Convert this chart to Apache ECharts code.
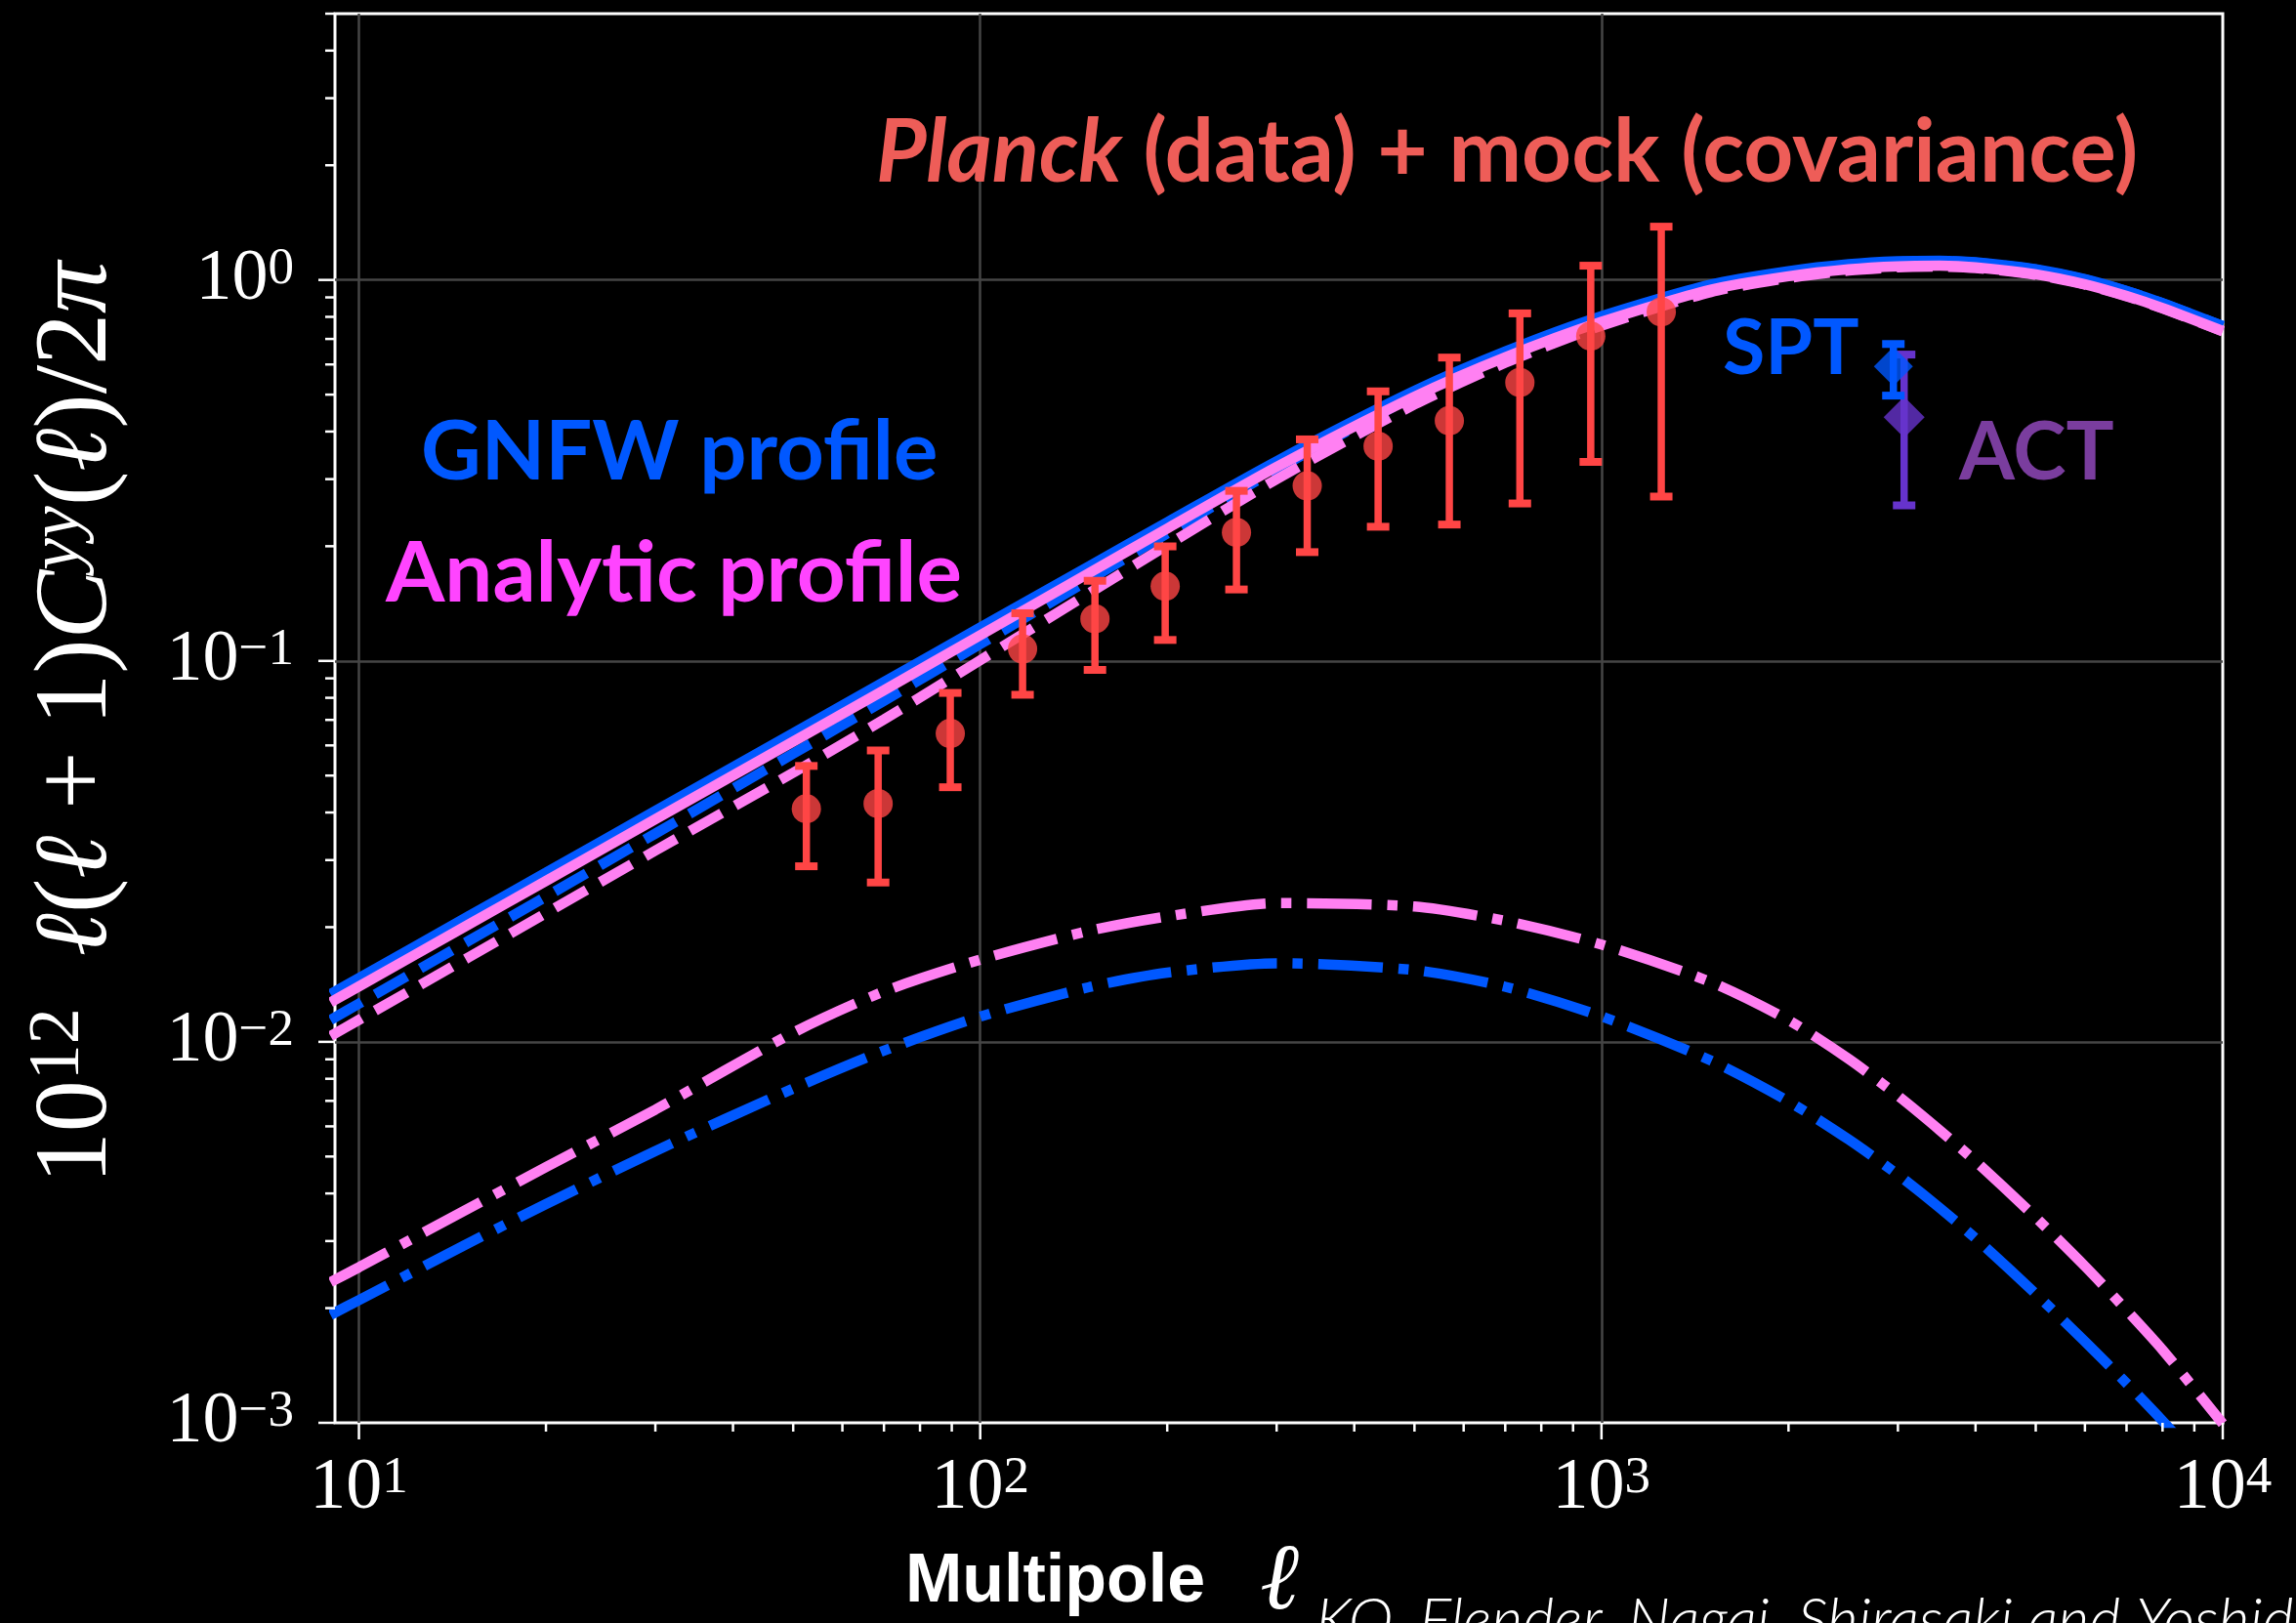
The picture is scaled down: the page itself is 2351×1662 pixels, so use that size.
<!DOCTYPE html>
<html><head><meta charset="utf-8">
<script src="https://cdn.jsdelivr.net/npm/echarts@6/dist/echarts.min.js"></script>
<style>html,body{margin:0;padding:0;background:#000}#c{width:2351px;height:1662px}</style>
</head><body><div id="c"></div>
<script>
// ---- data ----
const ell = [9, 10, 15, 20, 30, 50, 70, 100, 150, 200, 300, 500, 700, 1000, 1500, 2000, 2500, 3000, 3500, 4000, 5000, 6000, 7000, 8000, 10000];
const gnfwTotal     = [0.01334, 0.0147, 0.02135, 0.02781, 0.04039, 0.06461, 0.08807, 0.1223, 0.1775, 0.2312, 0.3344, 0.5112, 0.6489, 0.8036, 0.9728, 1.0544, 1.100, 1.120, 1.1235, 1.1131, 1.0669, 1.0046, 0.9359, 0.8695, 0.757];
const analyticTotal = [0.01269, 0.01398, 0.0203, 0.02645, 0.03841, 0.06144, 0.08375, 0.1168, 0.1704, 0.2226, 0.323, 0.4938, 0.6268, 0.7763, 0.9436, 1.0228, 1.067, 1.0864, 1.0898, 1.0797, 1.0349, 0.9745, 0.9078, 0.8434, 0.7343];
const gnfw1h        = [0.01142, 0.0126, 0.01839, 0.02406, 0.03522, 0.05707, 0.07859, 0.1107, 0.1636, 0.216, 0.3183, 0.4958, 0.635, 0.7919, 0.9639, 1.0474, 1.0945, 1.1155, 1.1198, 1.1101, 1.0647, 1.003, 0.9346, 0.8685, 0.7563];
const analytic1h    = [0.01035, 0.01142, 0.01665, 0.02176, 0.03177, 0.05087, 0.07019, 0.1004, 0.1508, 0.2013, 0.2999, 0.4711, 0.606, 0.7583, 0.9293, 1.0114, 1.058, 1.0792, 1.0839, 1.0748, 1.0314, 0.9719, 0.9058, 0.8419, 0.7333];
const gnfw2h        = [0.00192, 0.0021, 0.00296, 0.00375, 0.00517, 0.00754, 0.00948, 0.01165, 0.01393, 0.01519, 0.01608, 0.01543, 0.01395, 0.01167, 0.00893, 0.00698, 0.00554, 0.00448, 0.00367, 0.00305, 0.00218, 0.001635, 0.00127, 0.001012, 0.00068];
const analytic2h    = [0.00234, 0.00256, 0.00365, 0.00469, 0.00664, 0.01057, 0.01356, 0.01644, 0.01957, 0.02134, 0.02313, 0.02266, 0.02077, 0.018, 0.01435, 0.0114, 0.00902, 0.00722, 0.00587, 0.00486, 0.00346, 0.002576, 0.001976, 0.001554, 0.000995];

const planckEll = [52.5, 68.5, 89.5, 117, 153, 198.5, 258.5, 336, 437, 569, 739, 961, 1248];
const planckC   = [0.0409, 0.0422, 0.0645, 0.1075, 0.129, 0.157, 0.2175, 0.288, 0.366, 0.427, 0.538, 0.712, 0.824];
const planckLo  = [0.0289, 0.0262, 0.0466, 0.0815, 0.0947, 0.1135, 0.154, 0.193, 0.225, 0.228, 0.259, 0.333, 0.27];
const planckHi  = [0.053, 0.0582, 0.0824, 0.1334, 0.1623, 0.1998, 0.2795, 0.3815, 0.51, 0.6255, 0.817, 1.09, 1.38];

const sptEll = [2950], sptC = [0.593], sptLo = [0.497], sptHi = [0.679];
const actEll = [3070], actC = [0.436], actLo = [0.256], actHi = [0.637];

const X_MIN = 9.15, X_MAX = 10000, Y_MIN = 0.001, Y_MAX = 5;
const xMajorTicks = [10, 100, 1000, 10000];
const xMinorTicks = [20,30,40,50,60,70,80,90,200,300,400,500,600,700,800,900,2000,3000,4000,5000,6000,7000,8000,9000];
const yMajorTicks = [0.001, 0.01, 0.1, 1];
const yMinorTicks = [0.002,0.003,0.004,0.005,0.006,0.007,0.008,0.009,0.02,0.03,0.04,0.05,0.06,0.07,0.08,0.09,0.2,0.3,0.4,0.5,0.6,0.7,0.8,0.9,2,3,4,5];

// ---- styling ----
const BLUE = '#0058ff', PINK = '#ff80f2', RED = '#ff4545', PURPLE = '#6633cc';
const SERIF = "'Liberation Serif','DejaVu Serif',serif";
const SANS = "Lato,'Open Sans',sans-serif";
const LW = 10.5;
const DASH = [37, 16];
const DASHDOT = [66, 16, 10.5, 16];

const chart = echarts.init(document.getElementById('c'), null, {renderer: 'canvas'});

function pow10Label(v) {
  const e = Math.log10(v);
  const r = Math.round(e);
  if (Math.abs(e - r) > 1e-6) return '';
  return '{n|10}{s|' + String(r).replace('-', '\u2212') + '}';
}
const tickRich = {
  n: {fontFamily: SERIF, fontSize: 74, lineHeight: 74, color: '#fff'},
  s: {fontFamily: SERIF, fontSize: 53, lineHeight: 32, verticalAlign: 'top', color: '#fff'}
};

function pairs(xs, ys) { return xs.map((x, i) => [x, ys[i]]); }
function triples(xs, lo, hi) { return xs.map((x, i) => [x, lo[i], hi[i]]); }

function lineSeries(name, ys, color, type, z) {
  return {
    name, type: 'line', data: pairs(ell, ys), showSymbol: false, smooth: 0.25,
    lineStyle: {color, width: LW, type, cap: 'butt'}, z, silent: true, animation: false
  };
}

function errRender(color, barW, capW, capH) {
  return function (params, api) {
    const x = api.value(0), lo = api.value(1), hi = api.value(2);
    const a = api.coord([x, lo]), b = api.coord([x, hi]);
    return {type: 'group', children: [
      {type: 'line', shape: {x1: a[0], y1: a[1], x2: b[0], y2: b[1]}, style: {stroke: color, lineWidth: barW}},
      {type: 'rect', shape: {x: a[0] - capW / 2, y: a[1] - capH / 2, width: capW, height: capH}, style: {fill: color}},
      {type: 'rect', shape: {x: b[0] - capW / 2, y: b[1] - capH / 2, width: capW, height: capH}, style: {fill: color}}
    ]};
  };
}

function xTickSeries(vals, len) {
  return {
    type: 'custom', data: vals.map(v => [v, Y_MIN]), clip: false, z: 20, silent: true, animation: false,
    renderItem: (p, api) => {
      const c = api.coord([api.value(0), api.value(1)]);
      return {type: 'line', shape: {x1: c[0], y1: c[1], x2: c[0], y2: c[1] + len}, style: {stroke: '#fff', lineWidth: 2.5}};
    }
  };
}
function yTickSeries(vals, len) {
  return {
    type: 'custom', data: vals.map(v => [X_MIN, v]), clip: false, z: 20, silent: true, animation: false,
    renderItem: (p, api) => {
      const c = api.coord([api.value(0), api.value(1)]);
      return {type: 'line', shape: {x1: c[0], y1: c[1], x2: c[0] - len, y2: c[1]}, style: {stroke: '#fff', lineWidth: 2.5}};
    }
  };
}

const option = {
  backgroundColor: '#000',
  animation: false,
  grid: {left: 343, right: 75, top: 14, bottom: 205, show: true, borderColor: '#fff', borderWidth: 3, containLabel: false},
  xAxis: {
    type: 'log', logBase: 10, min: X_MIN, max: X_MAX,
    axisLine: {show: false}, axisTick: {show: false},
    splitLine: {show: true, showMinLine: false, showMaxLine: false, lineStyle: {color: '#454545', width: 2.5}},
    axisLabel: {formatter: pow10Label, rich: tickRich, margin: 31, showMinLabel: false, showMaxLabel: true, color: '#fff'}
  },
  yAxis: {
    type: 'log', logBase: 10, min: Y_MIN, max: Y_MAX,
    axisLine: {show: false}, axisTick: {show: false},
    splitLine: {show: true, showMinLine: false, showMaxLine: false, lineStyle: {color: '#454545', width: 2.5}},
    axisLabel: {formatter: pow10Label, rich: tickRich, margin: 42, showMinLabel: true, showMaxLabel: false, color: '#fff'}
  },
  series: [
    lineSeries('GNFW 1-halo', gnfw1h, BLUE, DASH, 2),
    lineSeries('Analytic 1-halo', analytic1h, PINK, DASH, 2),
    lineSeries('GNFW total', gnfwTotal, BLUE, 'solid', 3),
    lineSeries('Analytic total', analyticTotal, PINK, 'solid', 3),
    lineSeries('GNFW 2-halo', gnfw2h, BLUE, DASHDOT, 2),
    lineSeries('Analytic 2-halo', analytic2h, PINK, DASHDOT, 2),
    {type: 'custom', data: triples(planckEll, planckLo, planckHi), encode: {x: 0, y: [1, 2]}, renderItem: errRender(RED, 7.5, 23, 8), z: 5, silent: true},
    {type: 'scatter', data: pairs(planckEll, planckC), symbol: 'circle', symbolSize: 30, itemStyle: {color: RED}, z: 6, silent: true},
    {type: 'custom', data: triples(actEll, actLo, actHi), encode: {x: 0, y: [1, 2]}, renderItem: errRender(PURPLE, 7.5, 23, 8), z: 5, silent: true},
    {type: 'scatter', data: pairs(actEll, actC), symbol: 'diamond', symbolSize: [42, 42], itemStyle: {color: PURPLE}, z: 6, silent: true},
    {type: 'custom', data: triples(sptEll, sptLo, sptHi), encode: {x: 0, y: [1, 2]}, renderItem: errRender(BLUE, 7.5, 23, 8), z: 7, silent: true},
    {type: 'scatter', data: pairs(sptEll, sptC), symbol: 'diamond', symbolSize: [40, 40], itemStyle: {color: BLUE}, z: 8, silent: true},
    xTickSeries(xMajorTicks, 17), xTickSeries(xMinorTicks, 9),
    yTickSeries(yMajorTicks, 17), yTickSeries(yMinorTicks, 10)
  ],
  graphic: [
    {type: 'text', x: 897, y: 157, z: 50, silent: true, style: {
      text: '{i|Planck}{n| (data) + mock (covariance)}', verticalAlign: 'middle', align: 'left', fill: '#ee5d58',
      rich: {i: {fontFamily: SANS, fontWeight: 'bold', fontStyle: 'italic', fontSize: 89, fill: '#ee5d58'},
             n: {fontFamily: SANS, fontWeight: 'bold', fontSize: 89, fill: '#ee5d58'}}}},
    {type: 'text', x: 431, y: 464, z: 50, silent: true, style: {text: 'GNFW profile', fontFamily: SANS, fontWeight: 'bold', fontSize: 85, fill: BLUE, verticalAlign: 'middle', align: 'left'}},
    {type: 'text', x: 395, y: 588, z: 50, silent: true, style: {text: 'Analytic profile', fontFamily: SANS, fontWeight: 'bold', fontSize: 87, fill: '#ff44ff', verticalAlign: 'middle', align: 'left'}},
    {type: 'text', x: 1764, y: 358, z: 50, silent: true, style: {text: 'SPT', fontFamily: SANS, fontWeight: 'bold', fontSize: 79, fill: BLUE, verticalAlign: 'middle', align: 'left'}},
    {type: 'text', x: 2006, y: 465, z: 50, silent: true, style: {text: 'ACT', fontFamily: SANS, fontWeight: 'bold', fontSize: 82, fill: '#7a3d9e', verticalAlign: 'middle', align: 'left'}},
    {type: 'text', x: 927, y: 1621, z: 50, silent: true, style: {text: 'Multipole', fontFamily: "'Liberation Sans',sans-serif", fontWeight: 'bold', fontSize: 70, fill: '#fff', verticalAlign: 'middle', align: 'left'}},
    {type: 'text', x: 1290, y: 1622, z: 50, silent: true, style: {text: 'ℓ', fontFamily: SERIF, fontStyle: 'italic', fontSize: 96, fill: '#fff', verticalAlign: 'middle', align: 'left'}},
    {type: 'text', x: 1347, y: 1660, z: 50, silent: true, style: {text: 'KO, Flender, Nagai, Shirasaki and Yoshida', fontFamily: SANS, fontStyle: 'italic', fontWeight: 300, fontSize: 62, fill: '#fff', verticalAlign: 'middle', align: 'left'}},
    {type: 'text', x: 80, y: 740, rotation: Math.PI / 2, z: 50, silent: true, style: {
      text: '{n|10}{s|12}{n|  }{i|ℓ}{n|(}{i|ℓ}{n| + 1)}{i|C}{si|yy}{n|(}{i|ℓ}{n|)/2}{i|π}',
      align: 'center', verticalAlign: 'middle', fill: '#fff',
      rich: {n: {fontFamily: SERIF, fontSize: 106, lineHeight: 112, fill: '#fff'},
             i: {fontFamily: SERIF, fontStyle: 'italic', fontSize: 106, lineHeight: 112, fill: '#fff'},
             s: {fontFamily: SERIF, fontSize: 74, lineHeight: 48, verticalAlign: 'top', fill: '#fff'},
             si: {fontFamily: SERIF, fontStyle: 'italic', fontSize: 74, lineHeight: 48, verticalAlign: 'top', fill: '#fff'}}}}
  ]
};
chart.setOption(option);
</script></body></html>
